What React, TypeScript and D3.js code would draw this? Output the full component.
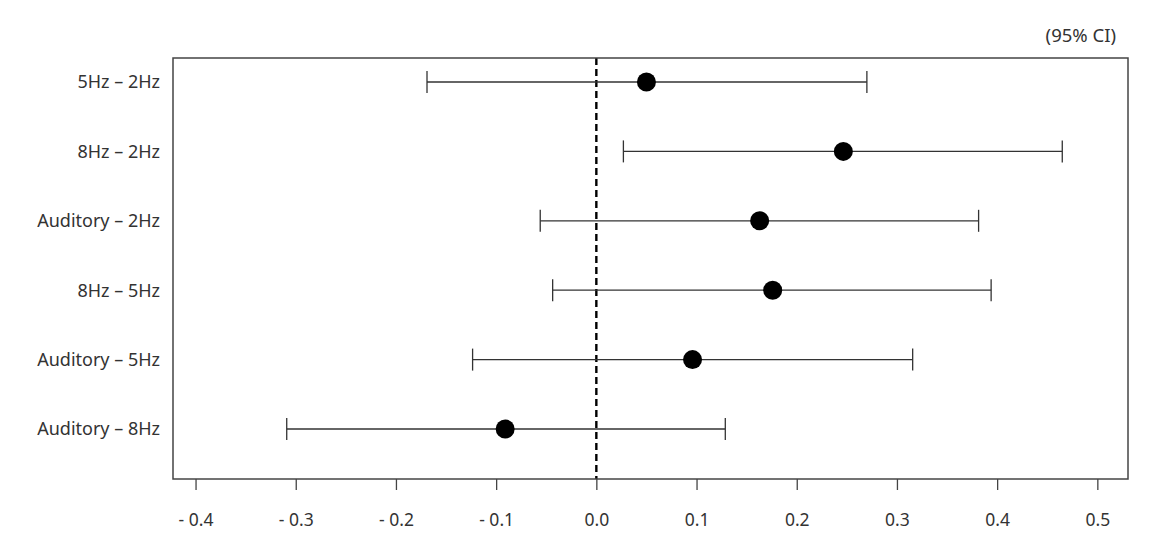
import React, { useEffect, useRef } from 'react';
import * as d3 from 'd3';

const contrasts = ['5Hz – 2Hz', '8Hz – 2Hz', 'Auditory – 2Hz', '8Hz – 5Hz', 'Auditory – 5Hz', 'Auditory – 8Hz'];
const estimates = [0.050, 0.2465, 0.163, 0.176, 0.096, -0.091];
const lowerCI = [-0.169, 0.027, -0.056, -0.0436, -0.1235, -0.309];
const upperCI = [0.270, 0.465, 0.3815, 0.394, 0.3157, 0.1287];
const xTicks = [-0.4, -0.3, -0.2, -0.1, 0.0, 0.1, 0.2, 0.3, 0.4, 0.5];

const W = 1175;
const H = 548;

const App: React.FC = () => {
  const svgRef = useRef<SVGSVGElement>(null);

  useEffect(() => {
    if (!svgRef.current) return;
    const svg = d3.select(svgRef.current);
    svg.selectAll('*').remove();

    const box = { left: 173, right: 1128, top: 58, bottom: 479 };
    const font = "'Noto Sans', 'Open Sans', sans-serif";
    const ink = '#333';

    const x = d3.scaleLinear()
      .domain([-0.4225, 0.5306])
      .range([box.left, box.right]);

    const y = d3.scalePoint<string>()
      .domain(contrasts)
      .range([82, 429]);

    const rows = contrasts.map((name, i) => ({
      name,
      est: estimates[i],
      lo: lowerCI[i],
      hi: upperCI[i],
    }));

    // zero reference line
    svg.append('line')
      .attr('x1', x(0)).attr('x2', x(0))
      .attr('y1', box.top).attr('y2', box.bottom)
      .attr('stroke', '#000')
      .attr('stroke-width', 2.4)
      .attr('stroke-dasharray', '7,4');

    const g = svg.append('g');

    // whiskers
    g.selectAll('line.ci')
      .data(rows)
      .join('line')
      .attr('class', 'ci')
      .attr('x1', d => x(d.lo)).attr('x2', d => x(d.hi))
      .attr('y1', d => y(d.name)!).attr('y2', d => y(d.name)!)
      .attr('stroke', ink)
      .attr('stroke-width', 1.3);

    // caps
    const capH = 11;
    ['lo', 'hi'].forEach(k => {
      g.selectAll(`line.cap-${k}`)
        .data(rows)
        .join('line')
        .attr('class', `cap-${k}`)
        .attr('x1', d => x((d as any)[k])).attr('x2', d => x((d as any)[k]))
        .attr('y1', d => y(d.name)! - capH).attr('y2', d => y(d.name)! + capH)
        .attr('stroke', ink)
        .attr('stroke-width', 1.3);
    });

    // points
    g.selectAll('circle')
      .data(rows)
      .join('circle')
      .attr('cx', d => x(d.est))
      .attr('cy', d => y(d.name)!)
      .attr('r', 9.5)
      .attr('fill', '#000');

    // frame
    svg.append('rect')
      .attr('x', box.left).attr('y', box.top)
      .attr('width', box.right - box.left)
      .attr('height', box.bottom - box.top)
      .attr('fill', 'none')
      .attr('stroke', '#444')
      .attr('stroke-width', 1.5);

    // x axis
    const fmt = (v: number) => (v < 0 ? '- ' + Math.abs(v).toFixed(1) : v.toFixed(1));
    const xAxis = svg.append('g')
      .attr('transform', `translate(0,${box.bottom})`)
      .call(d3.axisBottom(x).tickValues(xTicks).tickFormat(d => fmt(+d)).tickSize(11).tickPadding(24));
    xAxis.select('.domain').remove();
    xAxis.selectAll('.tick line').attr('stroke', '#444').attr('stroke-width', 1.3);
    xAxis.selectAll('.tick text')
      .attr('font-family', font)
      .attr('font-size', 17.5)
      .attr('fill', ink);

    // y labels
    svg.append('g')
      .selectAll('text')
      .data(rows)
      .join('text')
      .attr('x', 160)
      .attr('y', d => y(d.name)!)
      .attr('dy', '0.35em')
      .attr('text-anchor', 'end')
      .attr('font-family', font)
      .attr('font-size', 18)
      .attr('fill', ink)
      .text(d => d.name);

    svg.append('text')
      .attr('x', 1116)
      .attr('y', 42)
      .attr('text-anchor', 'end')
      .attr('font-family', font)
      .attr('font-size', 18.5)
      .attr('fill', ink)
      .text('(95% CI)');
  }, []);

  return (
    <svg
      ref={svgRef}
      width={W}
      height={H}
      viewBox={`0 0 ${W} ${H}`}
      style={{ position: 'absolute', left: 0, top: 0, background: '#fff' }}
    />
  );
};

export default App;
